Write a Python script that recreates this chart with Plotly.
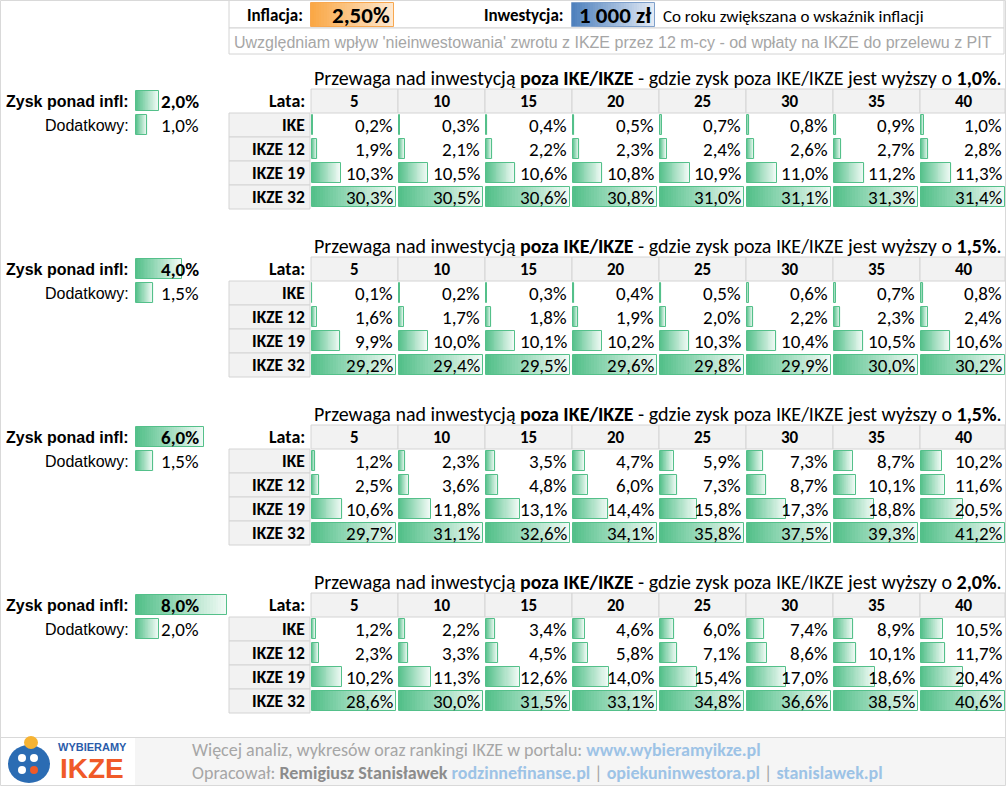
import plotly.graph_objects as go

# --- data -----------------------------------------------------------------
years = ["5", "10", "15", "20", "25", "30", "35", "40"]
row_names = ["IKE", "IKZE 12", "IKZE 19", "IKZE 32"]

zysk_ponad_infl = [2.0, 4.0, 6.0, 8.0]
dodatkowy = [1.0, 1.5, 1.5, 2.0]

b1_ike = [0.2, 0.3, 0.4, 0.5, 0.7, 0.8, 0.9, 1.0]
b1_ikze12 = [1.9, 2.1, 2.2, 2.3, 2.4, 2.6, 2.7, 2.8]
b1_ikze19 = [10.3, 10.5, 10.6, 10.8, 10.9, 11.0, 11.2, 11.3]
b1_ikze32 = [30.3, 30.5, 30.6, 30.8, 31.0, 31.1, 31.3, 31.4]

b2_ike = [0.1, 0.2, 0.3, 0.4, 0.5, 0.6, 0.7, 0.8]
b2_ikze12 = [1.6, 1.7, 1.8, 1.9, 2.0, 2.2, 2.3, 2.4]
b2_ikze19 = [9.9, 10.0, 10.1, 10.2, 10.3, 10.4, 10.5, 10.6]
b2_ikze32 = [29.2, 29.4, 29.5, 29.6, 29.8, 29.9, 30.0, 30.2]

b3_ike = [1.2, 2.3, 3.5, 4.7, 5.9, 7.3, 8.7, 10.2]
b3_ikze12 = [2.5, 3.6, 4.8, 6.0, 7.3, 8.7, 10.1, 11.6]
b3_ikze19 = [10.6, 11.8, 13.1, 14.4, 15.8, 17.3, 18.8, 20.5]
b3_ikze32 = [29.7, 31.1, 32.6, 34.1, 35.8, 37.5, 39.3, 41.2]

b4_ike = [1.2, 2.2, 3.4, 4.6, 6.0, 7.4, 8.9, 10.5]
b4_ikze12 = [2.3, 3.3, 4.5, 5.8, 7.1, 8.6, 10.1, 11.7]
b4_ikze19 = [10.2, 11.3, 12.6, 14.0, 15.4, 17.0, 18.6, 20.4]
b4_ikze32 = [28.6, 30.0, 31.5, 33.1, 34.8, 36.6, 38.5, 40.6]

blocks = [
    [b1_ike, b1_ikze12, b1_ikze19, b1_ikze32],
    [b2_ike, b2_ikze12, b2_ikze19, b2_ikze32],
    [b3_ike, b3_ikze12, b3_ikze19, b3_ikze32],
    [b4_ike, b4_ikze12, b4_ikze19, b4_ikze32],
]
przewaga = ["1,0%", "1,5%", "1,5%", "2,0%"]

inflacja = "2,50%"
inwestycja = "1 000 zł"

# --- layout constants (sheet grid, in px) ----------------------------------
W, H = 1006, 786
COL_X0, COL_W = 311, 87
LAB_X0, LAB_X1 = 229, 310
HEAD_TOP, ROW_H, BLOCK_STEP = 89, 24, 168
BAR_MAX = 84
LEFT_BAR_X0, LEFT_BAR_MAX = 136, 91

FONT = "Calibri, Carlito, Roboto, sans-serif"
FONT_ARIAL = "Arial, 'Liberation Sans', sans-serif"

GREEN = (84, 192, 138)
GREEN_END = (240, 250, 245)


def fmt(v):
    return ("%.1f" % v).replace(".", ",") + "%"


def mix(c1, c2, t):
    return "rgb(%d,%d,%d)" % tuple(round(a + (b - a) * t) for a, b in zip(c1, c2))


fig = go.Figure()
shapes = []
annotations = []


def text(x, y, s, size=15, bold=False, anchor="right", color="black", family=FONT):
    if bold:
        s = "<b>" + s + "</b>"
    annotations.append(dict(x=x, y=y, text=s, showarrow=False, xanchor=anchor,
                            yanchor="middle", font=dict(size=size, color=color, family=family)))


def cell(x0, y0, x1, y1, fill="#F2F2F2", line="#D4D4D4"):
    shapes.append(dict(type="rect", x0=x0, y0=y0, x1=x1, y1=y1, layer="below",
                       fillcolor=fill, line=dict(color=line, width=1)))


def databars(starts, ys, lengths, thick, c_from, c_to, border, steps=32):
    # excel-like gradient data bars, drawn as slices of a horizontal bar trace
    for k in range(steps):
        fig.add_trace(go.Bar(
            orientation="h", y=ys,
            x=[l / steps * 1.05 for l in lengths],
            base=[s + l * k / steps for s, l in zip(starts, lengths)],
            width=thick, marker_color=mix(c_from, c_to, k / (steps - 1)),
            marker_line_width=0, hoverinfo="skip", showlegend=False))
    fig.add_trace(go.Bar(
        orientation="h", y=ys, x=lengths, base=starts, width=thick,
        marker_color="rgba(0,0,0,0)", marker_line_color=border,
        marker_line_width=1, hoverinfo="skip", showlegend=False))


# --- header rows ------------------------------------------------------------
cell(LAB_X0, 0, 1004, 28, fill="white")
cell(LAB_X0, 28, 1004, 54, fill="white")
text(305, 15, "Inflacja:", size=17, bold=True)
text(565, 15, "Inwestycja:", size=17, bold=True)
databars([311], [15], [83], 24, (250, 168, 70), (253, 232, 208), "#F8A850")
databars([572], [15], [83], 24, (79, 129, 189), (226, 234, 245), "#7EA0CB")
text(392, 15, inflacja, size=23, bold=True)
text(653, 15, inwestycja, size=23, bold=True)
text(661, 16, "Co roku zwiększana o wskaźnik inflacji", size=17, anchor="left")
text(232, 42, "Uwzględniam wpływ 'nieinwestowania' zwrotu z IKZE przez 12 m-cy - od wpłaty na IKZE do przelewu z PIT",
     size=16, anchor="left", color="#A6A6A6", family=FONT_ARIAL)

# --- tables -----------------------------------------------------------------
bar_starts, bar_ys, bar_lens = [], [], []
for b, table in enumerate(blocks):
    off = b * BLOCK_STEP
    head_y0 = HEAD_TOP + off
    text(658, head_y0 - 11,
         "Przewaga nad inwestycją <b>poza IKE/IKZE</b> - gdzie zysk poza IKE/IKZE jest wyższy o <b>"
         + przewaga[b] + "</b>.", size=20, anchor="center")
    text(LAB_X1 - 3, head_y0 + ROW_H / 2, "Lata:", size=18, bold=True)
    for c, yr in enumerate(years):
        x0 = COL_X0 + c * COL_W
        cell(x0, head_y0, min(x0 + COL_W, W - 1), head_y0 + ROW_H)
        text(x0 + COL_W / 2, head_y0 + ROW_H / 2, yr, size=17, bold=True, anchor="center")
    for r, name in enumerate(row_names):
        y0 = head_y0 + ROW_H * (r + 1)
        cell(LAB_X0, y0, LAB_X1, y0 + ROW_H)
        text(LAB_X1 - 3, y0 + ROW_H / 2, name, size=17.5, bold=True)
    for c in range(len(years)):
        col_max = max(row[c] for row in table)
        x0 = COL_X0 + c * COL_W
        for r, row in enumerate(table):
            yc = head_y0 + ROW_H * (r + 1) + ROW_H / 2
            bar_starts.append(x0 + 1)
            bar_ys.append(yc)
            bar_lens.append(row[c] / col_max * BAR_MAX)
            text(x0 + COL_W - 3, yc, fmt(row[c]), size=19)

    # left panel
    text(131, head_y0 + ROW_H / 2, "Zysk ponad infl:", size=16, bold=True, family=FONT_ARIAL)
    text(131, head_y0 + ROW_H * 1.5, "Dodatkowy:", size=16, family=FONT_ARIAL)
    bar_starts += [LEFT_BAR_X0, LEFT_BAR_X0]
    bar_ys += [head_y0 + ROW_H / 2, head_y0 + ROW_H * 1.5]
    bar_lens += [zysk_ponad_infl[b] / max(zysk_ponad_infl) * LEFT_BAR_MAX,
                 dodatkowy[b] / max(zysk_ponad_infl) * LEFT_BAR_MAX]
    text(201, head_y0 + ROW_H / 2, fmt(zysk_ponad_infl[b]), size=19, bold=True)
    text(201, head_y0 + ROW_H * 1.5, fmt(dodatkowy[b]), size=19)

databars(bar_starts, bar_ys, bar_lens, 19.5, GREEN, GREEN_END, "rgb(84,192,138)")

# --- footer -----------------------------------------------------------------
shapes.append(dict(type="rect", x0=135, y0=738, x1=W, y1=H, layer="below",
                   fillcolor="#F5F5F5", line_width=0))
shapes.append(dict(type="line", x0=0, y0=737.5, x1=W, y1=737.5, layer="below",
                   line=dict(color="#D9D9D9", width=1)))
shapes.append(dict(type="rect", x0=0.5, y0=0.5, x1=W - 0.5, y1=H - 0.5, layer="below",
                   line=dict(color="#D9D9D9", width=1)))

link = "<span style='color:#9DC3E6'><b>%s</b></span>"
text(190, 750, "Więcej analiz, wykresów oraz rankingi IKZE w portalu: " + link % "www.wybieramyikze.pl",
     size=18, anchor="left", color="#A6A6A6")
text(190, 773, "Opracował: <span style='color:#8C8C8C'><b>Remigiusz Stanisławek</b></span> "
     + link % "rodzinnefinanse.pl" + " | " + link % "opiekuninwestora.pl" + " | "
     + link % "stanislawek.pl", size=18, anchor="left", color="#A6A6A6")

# logo
shapes.append(dict(type="circle", x0=8, y0=745, x1=50, y1=783, fillcolor="#2B6CB3", line_width=0))
shapes.append(dict(type="circle", x0=24, y0=736, x1=38, y1=749, fillcolor="#F6B333", line_width=0))
for cx, cy in [(22, 758), (34, 758), (22, 770)]:
    shapes.append(dict(type="circle", x0=cx - 4, y0=cy - 4, x1=cx + 4, y1=cy + 4,
                       fillcolor="white", line_width=0))
shapes.append(dict(type="circle", x0=30, y0=766, x1=38, y1=774, fillcolor="#F05A28", line_width=0))
text(92, 747, "WYBIERAMY", size=11, bold=True, anchor="center", color="#2B5CAA", family=FONT_ARIAL)
text(92, 768, "IKZE", size=28, bold=True, anchor="center", color="#F05A28", family=FONT_ARIAL)

fig.update_layout(
    width=W, height=H,
    margin=dict(l=0, r=0, t=0, b=0),
    paper_bgcolor="white", plot_bgcolor="white",
    barmode="overlay", bargap=0,
    xaxis=dict(range=[0, W], visible=False, fixedrange=True),
    yaxis=dict(range=[H, 0], visible=False, fixedrange=True),
    shapes=shapes, annotations=annotations,
    showlegend=False,
)

fig.write_html("out.html", config={"displayModeBar": False},
               post_script="document.body.style.margin='0';")
